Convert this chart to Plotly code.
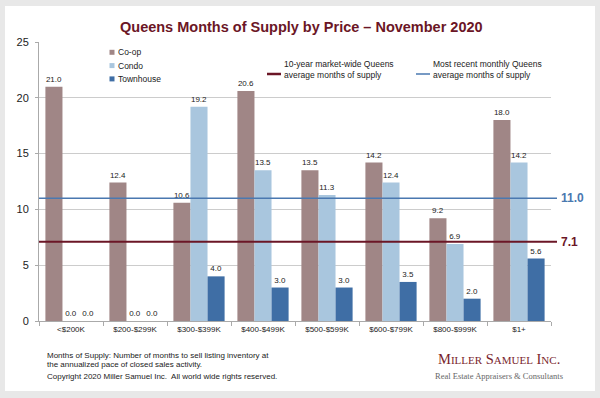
import plotly.graph_objects as go

# ---- data ----
categories = ["<$200K", "$200-$299K", "$300-$399K", "$400-$499K",
              "$500-$599K", "$600-$799K", "$800-$999K", "$1+"]
series_names = ["Co-op", "Condo", "Townhouse"]
coop = [21.0, 12.4, 10.6, 20.6, 13.5, 14.2, 9.2, 18.0]
condo = [0.0, 0.0, 19.2, 13.5, 11.3, 12.4, 6.9, 14.2]
townhouse = [0.0, 0.0, 4.0, 3.0, 3.0, 3.5, 2.0, 5.6]
ten_year_avg = 7.1
recent_avg = 11.0
y_ticks = [0, 5, 10, 15, 20, 25]

# ---- styling ----
colors = ["#a08686", "#a9c6de", "#3f6ea5"]
red = "#6b1626"
blue = "#4a78b0"
FONT = "Liberation Sans, Arial, sans-serif"
SERIF = "Liberation Serif, Times New Roman, serif"

W, H = 600, 398
L, R, T, B = 39, 551, 42, 321


def fx(px):
    return (px - L) / (R - L)


def fy(py):
    return (B - py) / (B - T)


fig = go.Figure()
for name, vals, col in zip(series_names, [coop, condo, townhouse], colors):
    fig.add_trace(go.Bar(
        x=categories, y=vals, name=name, marker_color=col,
        marker_line_width=0,
        texttemplate="%{y:.1f}", textposition="outside",
        textfont=dict(size=8, color="#222", family=FONT),
        cliponaxis=False, constraintext="none", showlegend=False,
    ))

shapes = []
annotations = []

# white panel
shapes.append(dict(type="rect", xref="paper", yref="paper",
                   x0=fx(5), x1=fx(595), y0=fy(391), y1=fy(6),
                   fillcolor="white", line_width=0, layer="below"))

# average lines
for val, col, w in [(recent_avg, blue, 1.5), (ten_year_avg, red, 1.8)]:
    shapes.append(dict(type="line", xref="paper", yref="y",
                       x0=0, x1=fx(557), y0=val, y1=val,
                       line=dict(color=col, width=w)))
    annotations.append(dict(xref="paper", yref="y", x=fx(559), y=val,
                            text=f"<b>{val:.1f}</b>", showarrow=False,
                            xanchor="left", yanchor="middle",
                            font=dict(size=12, color=col, family=FONT)))

# bar legend
for i, (name, col) in enumerate(zip(series_names, colors)):
    yc = 52.3 + i * 13.3
    shapes.append(dict(type="rect", xref="paper", yref="paper",
                       x0=fx(109.5), x1=fx(114.5), y0=fy(yc + 2.5), y1=fy(yc - 2.5),
                       fillcolor=col, line_width=0))
    annotations.append(dict(xref="paper", yref="paper", x=fx(116), y=fy(yc),
                            text=name, showarrow=False, xanchor="left",
                            yanchor="middle",
                            font=dict(size=8.5, color="#222", family=FONT)))

# line legends
for x_line, col, txt in [(267, red, "10-year market-wide Queens<br>average months of supply"),
                         (416, blue, "Most recent monthly Queens<br>average months of supply")]:
    shapes.append(dict(type="line", xref="paper", yref="paper",
                       x0=fx(x_line), x1=fx(x_line + 14), y0=fy(74), y1=fy(74),
                       line=dict(color=col, width=2.5 if col == red else 1.5)))
    annotations.append(dict(xref="paper", yref="paper", x=fx(x_line + 15), y=fy(69),
                            text=txt, showarrow=False, xanchor="left",
                            yanchor="middle", align="left",
                            font=dict(size=8.5, color="#222", family=FONT)))

# title
annotations.append(dict(xref="paper", yref="paper", x=fx(301), y=fy(27),
                        text="<b>Queens Months of Supply by Price – November 2020</b>",
                        showarrow=False, xanchor="center", yanchor="middle",
                        font=dict(size=14.5, color=red, family=FONT)))

# footer
for yc, txt in [(355, "Months of Supply: Number of months to sell listing inventory at"),
                (364, "the annualized pace of closed sales activity."),
                (376, "Copyright 2020 Miller Samuel Inc.  All world wide rights reserved.")]:
    annotations.append(dict(xref="paper", yref="paper", x=fx(45), y=fy(yc),
                            text=txt, showarrow=False, xanchor="left",
                            yanchor="middle",
                            font=dict(size=8, color="#222", family=FONT)))

# logo
big, small = 14.5, 11
logo = ("M<span style='font-size:%spx'>ILLER</span> S<span style='font-size:%spx'>AMUEL</span> "
        "I<span style='font-size:%spx'>NC</span>.") % (small, small, small)
annotations.append(dict(xref="paper", yref="paper", x=fx(499), y=fy(359),
                        text=logo, showarrow=False, xanchor="center",
                        yanchor="middle",
                        font=dict(size=big, color="#7a1f2e", family=SERIF)))
annotations.append(dict(xref="paper", yref="paper", x=fx(499), y=fy(376),
                        text="Real Estate Appraisers &amp; Consultants", showarrow=False,
                        xanchor="center", yanchor="middle",
                        font=dict(size=8.5, color="#666", family=SERIF)))

fig.update_layout(
    width=W, height=H,
    margin=dict(l=L, r=W - R, t=T, b=H - B, pad=0),
    paper_bgcolor="#e8e8e8", plot_bgcolor="rgba(0,0,0,0)",
    barmode="group", bargap=0.2, bargroupgap=0,
    shapes=shapes, annotations=annotations,
    font=dict(family=FONT, color="#222"),
)
fig.update_xaxes(showgrid=False, showline=True, linecolor="#aaaaaa", linewidth=1,
                 ticks="outside", tickson="boundaries", ticklen=4, tickcolor="#aaaaaa",
                 tickfont=dict(size=8, color="#222"))
fig.update_yaxes(range=[0, 25], tickvals=y_ticks, showgrid=True, gridcolor="#cccccc",
                 gridwidth=1, showline=True, linecolor="#aaaaaa", linewidth=1,
                 ticks="outside", ticklen=3, tickcolor="#aaaaaa", zeroline=False,
                 tickfont=dict(size=11, color="#222"), ticklabelstandoff=4)

fig.write_html("out.html", config={"displayModeBar": False},
               post_script="document.body.style.margin='0';document.body.style.background='#e8e8e8';")
